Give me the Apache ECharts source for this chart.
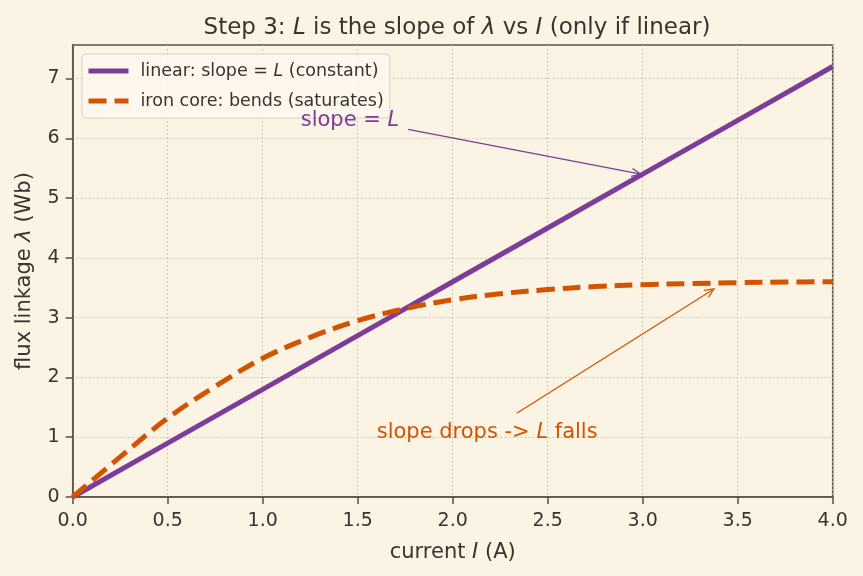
<!DOCTYPE html>
<html>
<head>
<meta charset="utf-8">
<script src="https://cdn.jsdelivr.net/npm/echarts@6/dist/echarts.min.js"></script>
<style>
html,body{margin:0;padding:0;background:#fbf3e4;}
#chart{width:863px;height:576px;}
</style>
</head>
<body>
<div id="chart"></div>
<script>
// ---- data ----
const linearI = [0, 0.5, 1, 1.5, 2, 2.5, 3, 3.5, 4];
const linearLambda = [0, 0.9, 1.8, 2.7, 3.6, 4.5, 5.4, 6.3, 7.2];
const ironI = [0, 0.25, 0.5, 0.75, 1.0, 1.25, 1.5, 1.75, 2.0, 2.25, 2.5, 2.75, 3.0, 3.25, 3.5, 3.75, 4.0];
const ironLambda = [0, 0.67, 1.32, 1.85, 2.32, 2.67, 2.95, 3.15, 3.30, 3.40, 3.47, 3.52, 3.55, 3.57, 3.585, 3.595, 3.60];
const xTickValues = [0, 0.5, 1, 1.5, 2, 2.5, 3, 3.5, 4];
const yTickValues = [0, 1, 2, 3, 4, 5, 6, 7];
// annotations: [textX, textY, arrowFromX, arrowFromY, arrowToX, arrowToY]
const annoLinear = [1.2, 6.3, 1.765, 6.15, 2.99, 5.4];
const annoIron = [1.6, 1.08, 2.337, 1.40, 3.375, 3.48];

const PURPLE = '#7d3c98';
const ORANGE = '#d35400';
const TXT = '#3b332d';
const AX = '#5b4f45';
const FONT = 'DejaVu Sans';

function annoRender(color, label) {
  return function (params, api) {
    const t = api.coord([api.value(0), api.value(1)]);
    const p1 = api.coord([api.value(2), api.value(3)]);
    const p2 = api.coord([api.value(4), api.value(5)]);
    const ang = Math.atan2(p2[1] - p1[1], p2[0] - p1[0]);
    const L = 10, a = 0.42;
    const h1 = [p2[0] - L * Math.cos(ang - a), p2[1] - L * Math.sin(ang - a)];
    const h2 = [p2[0] - L * Math.cos(ang + a), p2[1] - L * Math.sin(ang + a)];
    return {
      type: 'group',
      children: [
        {type: 'line', shape: {x1: p1[0], y1: p1[1], x2: p2[0], y2: p2[1]},
         style: {stroke: color, lineWidth: 1.3}},
        {type: 'polyline', shape: {points: [h1, p2, h2]},
         style: {stroke: color, lineWidth: 1.3, fill: null}},
        {type: 'text', x: t[0], y: t[1],
         style: {text: label, fill: color, align: 'left', verticalAlign: 'middle',
           font: '21px "DejaVu Sans"',
           rich: {n: {fontFamily: FONT, fontSize: 21, fill: color},
                  i: {fontFamily: FONT, fontSize: 21, fontStyle: 'italic', fill: color}}}}
      ]
    };
  };
}

const chart = echarts.init(document.getElementById('chart'), null, {renderer: 'canvas'});
chart.setOption({
  backgroundColor: '#fbf3e4',
  animation: false,
  title: {
    text: '{n|Step 3: }{i|L}{n| is the slope of }{i|λ}{n| vs }{i|I}{n| (only if linear)}',
    left: 452, top: 12, textAlign: 'center',
    textStyle: {
      fontWeight: 'normal',
      rich: {
        n: {fontFamily: FONT, fontSize: 23, color: TXT, fontWeight: 'normal'},
        i: {fontFamily: FONT, fontSize: 23, color: TXT, fontStyle: 'italic', fontWeight: 'normal'}
      }
    }
  },
  grid: {left: 72.7, right: 30.3, top: 45, bottom: 79, show: true,
         borderColor: AX, borderWidth: 1.5, backgroundColor: 'transparent'},
  legend: {
    left: 82, top: 54, orient: 'vertical',
    data: ['linear', 'iron'],
    itemWidth: 40, itemHeight: 14, itemGap: 12,
    padding: [8, 6, 8, 4],
    backgroundColor: 'rgba(252,248,240,0.82)',
    borderColor: '#d8d1c6', borderWidth: 1, borderRadius: 4,
    lineStyle: {width: 5},
    itemStyle: {opacity: 0},
    formatter: function (name) {
      if (name === 'linear') return '{n|linear: slope = }{i|L}{n| (constant)}';
      return '{n|iron core: bends (saturates)}';
    },
    textStyle: {
      padding: [0, 0, 0, 7],
      rich: {
        n: {fontFamily: FONT, fontSize: 17.5, color: TXT, lineHeight: 18},
        i: {fontFamily: FONT, fontSize: 17.5, color: TXT, fontStyle: 'italic', lineHeight: 18}
      }
    }
  },
  xAxis: {
    type: 'value', min: 0, max: 4, interval: 0.5,
    name: '{n|current }{i|I}{n| (A)}', nameLocation: 'middle', nameGap: 45,
    nameTextStyle: {rich: {
      n: {fontFamily: FONT, fontSize: 21, color: TXT},
      i: {fontFamily: FONT, fontSize: 21, color: TXT, fontStyle: 'italic'}}},
    axisLine: {show: true, lineStyle: {color: AX, width: 1.5}},
    axisTick: {show: true, length: 7, lineStyle: {color: AX, width: 1.5}},
    axisLabel: {fontFamily: FONT, fontSize: 19, color: TXT, margin: 15,
      customValues: xTickValues,
      formatter: function (v) { return v.toFixed(1); }},
    splitLine: {show: true, lineStyle: {color: '#c4bbae', type: [1.5, 2.5], width: 1}}
  },
  yAxis: {
    type: 'value', min: 0, max: 7.56, interval: 1,
    name: '{n|flux linkage }{i|λ}{n| (Wb)}', nameLocation: 'middle', nameGap: 38,
    nameTextStyle: {rich: {
      n: {fontFamily: FONT, fontSize: 21, color: TXT},
      i: {fontFamily: FONT, fontSize: 21, color: TXT, fontStyle: 'italic'}}},
    axisLine: {show: true, lineStyle: {color: AX, width: 1.5}},
    axisTick: {show: true, length: 7, customValues: yTickValues, lineStyle: {color: AX, width: 1.5}},
    axisLabel: {fontFamily: FONT, fontSize: 19, color: TXT, margin: 13,
      customValues: yTickValues},
    splitLine: {show: true, lineStyle: {color: '#c4bbae', type: [1.5, 2.5], width: 1}}
  },
  series: [
    {
      name: 'linear', type: 'line', showSymbol: false, symbol: 'none',
      data: linearI.map((x, i) => [x, linearLambda[i]]),
      lineStyle: {color: PURPLE, width: 5, cap: 'butt'},
      itemStyle: {color: PURPLE}, z: 3
    },
    {
      name: 'iron', type: 'line', showSymbol: false, symbol: 'none', smooth: 0.35,
      data: ironI.map((x, i) => [x, ironLambda[i]]),
      lineStyle: {color: ORANGE, width: 5, type: [18, 8], cap: 'butt'},
      itemStyle: {color: ORANGE}, z: 4
    },
    {
      type: 'custom', silent: true, clip: false, z: 5,
      renderItem: annoRender(PURPLE, '{n|slope = }{i|L}'),
      data: [annoLinear]
    },
    {
      type: 'custom', silent: true, clip: false, z: 5,
      renderItem: annoRender(ORANGE, '{n|slope drops -> }{i|L}{n| falls}'),
      data: [annoIron]
    }
  ]
});
</script>
</body>
</html>
